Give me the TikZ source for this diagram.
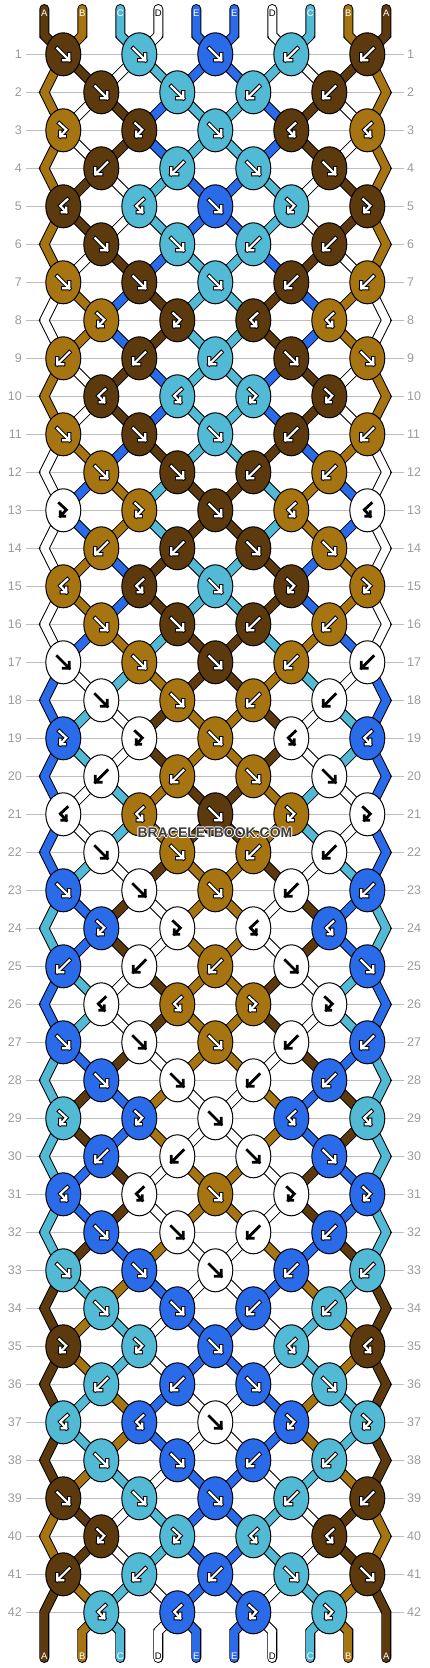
\documentclass[tikz,border=0pt]{standalone}
\usepackage{fontspec}
\setmainfont{Liberation Sans}
\usetikzlibrary{shapes.geometric}

\definecolor{cA}{HTML}{5C3A0E}
\definecolor{cB}{HTML}{A67512}
\definecolor{cC}{HTML}{52BAD4}
\definecolor{cD}{HTML}{FFFFFF}
\definecolor{cE}{HTML}{2A6BEA}
\definecolor{rulegray}{HTML}{BEBEBE}
\definecolor{numgray}{HTML}{9A9A9A}
\definecolor{wmgray}{HTML}{3C3C3C}

\newcommand\halotext[1]{%
  \rlap{\kern0.9pt\textcolor{white}{#1}}\rlap{\kern-0.9pt\textcolor{white}{#1}}%
  \rlap{\raisebox{0.9pt}{\textcolor{white}{#1}}}\rlap{\raisebox{-0.9pt}{\textcolor{white}{#1}}}#1}

\tikzset{
  knot/.style={ellipse, draw=black, line width=1pt, inner sep=0pt,
    minimum width=35pt, minimum height=43pt},
  tube/.style={line width=10pt, black, line cap=round, line join=miter},
  core/.style={line width=8pt, line cap=round, line join=round},
  rowline/.style={rulegray, line width=1pt},
  rownum/.style={text=numgray, inner sep=0pt, font=\fontsize{12.5}{14}\selectfont},
  strlab/.style={inner sep=0pt, text=white, font=\fontsize{9.5}{10}\selectfont},
  labA/.style={}, labB/.style={}, labC/.style={}, labE/.style={},
  labD/.style={text=black},
  gout/.style={black, line width=4.2pt, line cap=rect, line join=miter},
  gin/.style={white, line width=2.2pt, line cap=rect, line join=miter},
  inkA/.style={}, inkB/.style={}, inkC/.style={}, inkE/.style={},
  inkD/.style={gout/.style={draw=none},
    gin/.style={black, line width=2.8pt, line cap=rect, line join=miter}},
  % knot glyphs
  gf/.pic={
    \draw[gout] (-6,-6) -- (6,6) (6,0) -- (6,6) -- (0,6);
    \draw[gin] (-6,-6) -- (6,6) (6,0) -- (6,6) -- (0,6);
  },
  gb/.pic={
    \draw[gout] (6,-6) -- (-6,6) (-6,0) -- (-6,6) -- (0,6);
    \draw[gin] (6,-6) -- (-6,6) (-6,0) -- (-6,6) -- (0,6);
  },
  gfb/.pic={
    \draw[gout] (-4,-7) -- (3,-0.5) -- (-3,6) (-3,1.5) -- (-3,6) -- (1.5,6);
    \draw[gin] (-4,-7) -- (3,-0.5) -- (-3,6) (-3,1.5) -- (-3,6) -- (1.5,6);
  },
  gbf/.pic={
    \draw[gout] (4,-7) -- (-3,-0.5) -- (3,6) (3,1.5) -- (3,6) -- (-1.5,6);
    \draw[gin] (4,-7) -- (-3,-0.5) -- (3,6) (3,1.5) -- (3,6) -- (-1.5,6);
  },
}

\begin{document}
\begin{tikzpicture}[x=1pt,y=-1pt]
\useasboundingbox (0,0) rectangle (430,1668);
% row / knots (type/colour) / strings after the row
\def\rows{
 1/{f/A,f/C,f/E,b/C,b/A}/{B,A,D,C,E,E,C,D,A,B},
 2/{f/A,f/C,b/C,b/A}/{B,D,A,E,C,C,E,A,D,B},
 3/{fb/B,fb/A,f/C,bf/A,bf/B}/{B,D,A,E,C,C,E,A,D,B},
 4/{b/A,b/C,f/C,f/A}/{B,A,D,C,E,E,C,D,A,B},
 5/{bf/A,bf/C,f/E,fb/C,fb/A}/{B,A,D,C,E,E,C,D,A,B},
 6/{f/A,f/C,b/C,b/A}/{B,D,A,E,C,C,E,A,D,B},
 7/{f/B,f/A,f/C,b/A,b/B}/{D,B,E,A,C,C,A,E,B,D},
 8/{fb/B,fb/A,bf/A,bf/B}/{D,B,E,A,C,C,A,E,B,D},
 9/{b/B,b/A,b/C,f/A,f/B}/{B,D,A,E,C,C,E,A,D,B},
 10/{bf/A,bf/C,fb/C,fb/A}/{B,D,A,E,C,C,E,A,D,B},
 11/{f/B,f/A,f/C,b/A,b/B}/{D,B,E,A,C,C,A,E,B,D},
 12/{f/B,f/A,b/A,b/B}/{D,E,B,C,A,A,C,B,E,D},
 13/{fb/D,fb/B,f/A,bf/B,bf/D}/{D,E,B,C,A,A,C,B,E,D},
 14/{b/B,b/A,f/A,f/B}/{D,B,E,A,C,C,A,E,B,D},
 15/{bf/B,bf/A,f/C,fb/A,fb/B}/{D,B,E,A,C,C,A,E,B,D},
 16/{f/B,f/A,b/A,b/B}/{D,E,B,C,A,A,C,B,E,D},
 17/{f/D,f/B,f/A,b/B,b/D}/{E,D,C,B,A,A,B,C,D,E},
 18/{f/D,f/B,b/B,b/D}/{E,C,D,A,B,B,A,D,C,E},
 19/{fb/E,fb/D,f/B,bf/D,bf/E}/{E,C,D,A,B,B,A,D,C,E},
 20/{b/D,b/B,f/B,f/D}/{E,D,C,B,A,A,B,C,D,E},
 21/{bf/D,bf/B,f/A,fb/B,fb/D}/{E,D,C,B,A,A,B,C,D,E},
 22/{f/D,f/B,b/B,b/D}/{E,C,D,A,B,B,A,D,C,E},
 23/{f/E,f/D,f/B,b/D,b/E}/{C,E,A,D,B,B,D,A,E,C},
 24/{fb/E,fb/D,bf/D,bf/E}/{C,E,A,D,B,B,D,A,E,C},
 25/{b/E,b/D,b/B,f/D,f/E}/{E,C,D,A,B,B,A,D,C,E},
 26/{bf/D,bf/B,fb/B,fb/D}/{E,C,D,A,B,B,A,D,C,E},
 27/{f/E,f/D,f/B,b/D,b/E}/{C,E,A,D,B,B,D,A,E,C},
 28/{f/E,f/D,b/D,b/E}/{C,A,E,B,D,D,B,E,A,C},
 29/{fb/C,fb/E,f/D,bf/E,bf/C}/{C,A,E,B,D,D,B,E,A,C},
 30/{b/E,b/D,f/D,f/E}/{C,E,A,D,B,B,D,A,E,C},
 31/{bf/E,bf/D,f/B,fb/D,fb/E}/{C,E,A,D,B,B,D,A,E,C},
 32/{f/E,f/D,b/D,b/E}/{C,A,E,B,D,D,B,E,A,C},
 33/{f/C,f/E,f/D,b/E,b/C}/{A,C,B,E,D,D,E,B,C,A},
 34/{f/C,f/E,b/E,b/C}/{A,B,C,D,E,E,D,C,B,A},
 35/{fb/A,fb/C,f/E,bf/C,bf/A}/{A,B,C,D,E,E,D,C,B,A},
 36/{b/C,b/E,f/E,f/C}/{A,C,B,E,D,D,E,B,C,A},
 37/{bf/C,bf/E,f/D,fb/E,fb/C}/{A,C,B,E,D,D,E,B,C,A},
 38/{f/C,f/E,b/E,b/C}/{A,B,C,D,E,E,D,C,B,A},
 39/{f/A,f/C,f/E,b/C,b/A}/{B,A,D,C,E,E,C,D,A,B},
 40/{fb/A,fb/C,bf/C,bf/A}/{B,A,D,C,E,E,C,D,A,B},
 41/{b/A,b/C,b/E,f/C,f/A}/{A,B,C,D,E,E,D,C,B,A},
 42/{bf/C,bf/E,fb/E,fb/C}/{A,B,C,D,E,E,D,C,B,A}}

% string ends
\foreach \p in {1,...,10}{
  \pgfmathsetmacro\posx{6.3+38*\p}
  \coordinate (T-\p) at (\posx,9);
  \coordinate (P-0-\p) at (\posx,35.3);
  \coordinate (P-43-\p) at (\posx,1631.3);
  \coordinate (Z-\p) at (\posx,1658);
}
% where each string sits on each row, rules and numbers
\foreach \r in {1,...,42}{
  \pgfmathsetmacro\rowy{16.3+38*\r}
  \foreach \p in {1,...,10}{
    \pgfmathsetmacro\posx{6.3+38*\p+19*(1-2*mod(\p+\r,2))*(1-(mod(\r,2)==0)*((\p==1)+(\p==10)))}
    \coordinate (P-\r-\p) at (\posx,\rowy);
  }
  \draw[rowline] (26,\rowy) -- (404,\rowy);
  \node[rownum, anchor=east] (nl-\r) at (22,\rowy) {\r};
  \node[rownum, anchor=west] (nr-\r) at (407,\rowy) {\r};
}

% strings: outline first, then colours
\foreach \p in {1,...,10}
  \draw[tube] (T-\p) \foreach \r in {0,...,43}{ -- (P-\r-\p)} -- (Z-\p);
\foreach \c [count=\p] in {A,B,C,D,E,E,D,C,B,A}{
  \draw[core, c\c] (T-\p) -- (P-0-\p) -- (P-1-\p);
  \draw[core, c\c] (P-43-\p) -- (Z-\p);
}
\foreach \r/\kn/\st in \rows{
  \pgfmathtruncatemacro\rr{\r+1}
  \foreach \c [count=\p] in \st
    \draw[core, c\c] (P-\r-\p) -- (P-\rr-\p);
}

% knots
\foreach \r/\kn/\st in \rows{
  \foreach \t/\c [count=\i] in \kn{
    \pgfmathtruncatemacro\p{2*\i-mod(\r,2)}
    \node[knot, fill=c\c] (K-\r-\i) at (P-\r-\p) {};
    \pic[ink\c] at (K-\r-\i) {g\t};
  }
}

% labels
\foreach \c [count=\p] in {A,B,C,D,E,E,D,C,B,A}{
  \node[strlab, lab\c] (top-\p) at ([yshift=-4pt]T-\p) {\c};
  \node[strlab, lab\c] (bot-\p) at ([yshift=2pt]Z-\p) {\c};
}
\node[text=wmgray, font=\bfseries\fontsize{14}{16}\selectfont] (wm) at (215,833) {\halotext{BRACELETBOOK.COM}};
\end{tikzpicture}
\end{document}
